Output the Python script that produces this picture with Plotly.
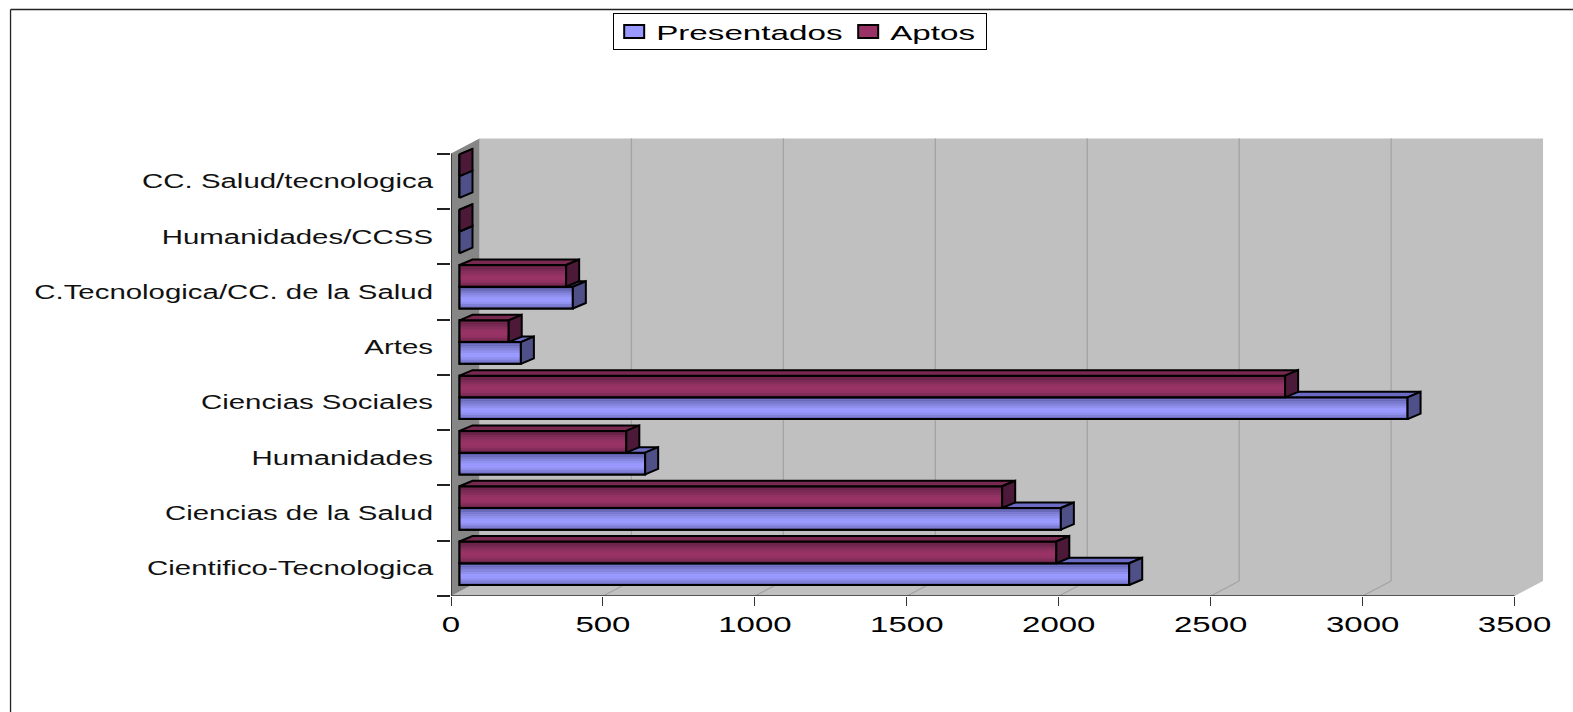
import plotly.graph_objects as go

categories = ["Cientifico-Tecnologica", "Ciencias de la Salud", "Humanidades", "Ciencias Sociales",
              "Artes", "C.Tecnologica/CC. de la Salud", "Humanidades/CCSS", "CC. Salud/tecnologica"]
presentados = [2204, 1979, 611, 3120, 202, 373, 0, 0]
aptos = [1964, 1786, 549, 2717, 162, 351, 0, 0]
x_ticks = [0, 500, 1000, 1500, 2000, 2500, 3000, 3500]

# pixel geometry of the frame
W, H = 1573, 712
L, R, T, B = 450.5, 28.4, 137.4, 116
PX_X = 0.3039     # px per value unit
PX_Y = 55.25      # px per category band
X_MAX = (W - R - L) / PX_X
Y_MAX = (H - B - T) / PX_Y
WALL_DX, WALL_DY = 28.5 / PX_X, 15 / PX_Y
BAR_BASE = 8.5 / PX_X
BAR_DX, BAR_DY = 13 / PX_X, 5.5 / PX_Y
BAR_START, BAR_H = 0.199, 0.393

N_BANDS = len(categories)
centers = [i + 0.5 for i in range(N_BANDS)]
band_edges = list(range(N_BANDS + 1))

blue_shades = ["#5c5ca6", "#6a6abb", "#7878cc", "#8585dd", "#9090ee", "#9999ff", "#9999ff", "#9090ee", "#8080d8", "#6c6cbc"]
red_shades = ["#5e2040", "#6c254a", "#7a2a54", "#862e5c", "#923262", "#993366", "#993366", "#923262", "#822c58", "#6c254a"]

series = [
    dict(name="Presentados", vals=presentados, lo=BAR_START, base="#9999ff", shades=blue_shades,
         side="#4f5088", top="#6b6bc4", lw=189),
    dict(name="Aptos", vals=aptos, lo=BAR_START + BAR_H, base="#993366", shades=red_shades,
         side="#4c1a38", top="#77294f", lw=93),
]

fig = go.Figure()
LINE = dict(color="#000000", width=2)
n_strip = len(blue_shades)
for s in series:
    y_mid = [i + s["lo"] + BAR_H / 2 for i in range(N_BANDS)]
    fig.add_trace(go.Bar(name=s["name"], orientation="h", x=s["vals"], y=y_mid, base=BAR_BASE, width=BAR_H,
                         marker=dict(color=s["base"], line=LINE), hoverinfo="x+y", legendwidth=s["lw"]))
    sx, sy, sc = [], [], []
    for i, v in enumerate(s["vals"]):
        for k in range(n_strip):
            sx.append(v)
            sy.append(i + s["lo"] + BAR_H * (1 - (k + 0.5) / n_strip))
            sc.append(s["shades"][k])
    fig.add_trace(go.Bar(orientation="h", x=sx, y=sy, base=BAR_BASE, width=BAR_H / n_strip * 1.04,
                         marker=dict(color=sc, line=dict(width=0)), showlegend=False, hoverinfo="skip"))
    fig.add_trace(go.Bar(orientation="h", x=s["vals"], y=y_mid, base=BAR_BASE, width=BAR_H,
                         marker=dict(color="rgba(0,0,0,0)", line=LINE), showlegend=False, hoverinfo="skip"))

for idx, s in enumerate(series):
    tx, ty, rx, ry = [], [], [], []
    for i, v in enumerate(s["vals"]):
        end = BAR_BASE + v
        bottom = i + s["lo"]
        top = bottom + BAR_H
        left = BAR_BASE
        if idx == 0:  # the front of the next series hides the left part of this top face
            left = BAR_BASE + series[1]["vals"][i]
        start_top = left if idx == 0 else left + BAR_DX
        tx += [left, end, end + BAR_DX, start_top, left, None]
        ty += [top, top, top + BAR_DY, top + BAR_DY, top, None]
        rx += [end, end + BAR_DX, end + BAR_DX, end, end, None]
        ry += [bottom, bottom + BAR_DY, top + BAR_DY, top, bottom, None]
    fig.add_trace(go.Scatter(x=tx, y=ty, mode="lines", fill="toself", fillcolor=s["top"], line=LINE,
                             showlegend=False, hoverinfo="skip"))
    fig.add_trace(go.Scatter(x=rx, y=ry, mode="lines", fill="toself", fillcolor=s["side"], line=LINE,
                             showlegend=False, hoverinfo="skip"))

# axis lines, limited to the front of the box
fig.add_trace(go.Scatter(x=[0, 0], y=[0, N_BANDS], mode="lines", line=dict(color="#222222", width=1.5),
                         cliponaxis=False, showlegend=False, hoverinfo="skip"))
fig.add_trace(go.Scatter(x=[0, x_ticks[-1]], y=[0, 0], mode="lines", line=dict(color="#333333", width=1.5),
                         cliponaxis=False, showlegend=False, hoverinfo="skip"))

shapes = []
def poly(pts, fill):
    path = "M" + " L".join(f"{x},{y}" for x, y in pts) + " Z"
    shapes.append(dict(type="path", path=path, xref="x", yref="y", fillcolor=fill, line=dict(width=0), layer="below"))

poly([(WALL_DX, WALL_DY), (x_ticks[-1] + WALL_DX, WALL_DY), (x_ticks[-1] + WALL_DX, N_BANDS + WALL_DY),
      (WALL_DX, N_BANDS + WALL_DY)], "#c0c0c0")
poly([(0, 0), (x_ticks[-1], 0), (x_ticks[-1] + WALL_DX, WALL_DY), (WALL_DX, WALL_DY)], "#c0c0c0")
poly([(0, 0), (WALL_DX, WALL_DY), (WALL_DX, N_BANDS + WALL_DY), (0, N_BANDS)], "#868686")
GRID = dict(color="#a3a3a3", width=1.3)
for t in x_ticks[1:-1]:
    shapes.append(dict(type="line", xref="x", yref="y", x0=t, y0=0, x1=t + WALL_DX, y1=WALL_DY, line=GRID, layer="below"))
    shapes.append(dict(type="line", xref="x", yref="y", x0=t + WALL_DX, y0=WALL_DY, x1=t + WALL_DX,
                       y1=N_BANDS + WALL_DY, line=GRID, layer="below"))

# outer frame: left and top edges only are in view
pw, ph = W - L - R, H - T - B
fx = lambda px: (px - L) / pw
fy = lambda py: 1 - (py - T) / ph
FRAME = dict(color="#222222", width=1.3)
shapes.append(dict(type="line", xref="paper", yref="paper", x0=fx(10), y0=fy(10), x1=fx(W), y1=fy(10), line=FRAME))
shapes.append(dict(type="line", xref="paper", yref="paper", x0=fx(10), y0=fy(10), x1=fx(10), y1=fy(H), line=FRAME))

fig.update_layout(
    width=W, height=H, autosize=False,
    margin=dict(l=L, r=R, t=T, b=B, pad=0),
    paper_bgcolor="#ffffff", plot_bgcolor="#ffffff",
    barmode="overlay", shapes=shapes,
    font=dict(family="Liberation Sans", color="#000000"),
    xaxis=dict(range=[0, X_MAX], tickvals=x_ticks, ticks="outside", ticklen=8.5, tickwidth=1.3, tickcolor="#333333",
               showgrid=False, zeroline=False, showline=False, tickfont=dict(size=22, color="#000000")),
    yaxis=dict(range=[0, Y_MAX], tickvals=centers, ticktext=categories, ticks="outside", ticklen=13,
               tickcolor="rgba(0,0,0,0)", showgrid=False, zeroline=False, showline=False,
               tickfont=dict(size=20, color="#111111"),
               minor=dict(tickvals=band_edges, ticks="outside", ticklen=13, tickwidth=1.5, tickcolor="#222222", showgrid=False)),
    legend=dict(x=fx(612.7), y=fy(14), xanchor="left", yanchor="top", orientation="h",
                bgcolor="#ffffff", bordercolor="#000000", borderwidth=1, font=dict(size=21, color="#000000"),
                traceorder="normal"),
)

# the reference's text is stretched sideways and its legend keys are wider
post = """
document.body.style.margin = '0';
var gd = document.getElementById('{plot_id}');
function stretch(sel, f) {
  gd.querySelectorAll(sel).forEach(function (t) {
    t.removeAttribute('textLength');
    t.setAttribute('textLength', t.getComputedTextLength() * f);
    t.setAttribute('lengthAdjust', 'spacingAndGlyphs');
  });
}
function all() {
  stretch('.xtick text', 1.5); stretch('.ytick text', 1.47); stretch('.legendtext', 1.58);
  gd.querySelectorAll('.legendtext').forEach(function (t) { t.setAttribute('x', 42); });
  gd.querySelectorAll('.legend .legendpoints path').forEach(function (p) {
    p.setAttribute('d', 'M10,6.5H-10V-6.5H10Z');
    p.style.strokeWidth = '2px';
  });
  var bg = gd.querySelector('.legend .bg');
  if (bg) { bg.setAttribute('height', 35.5); }
  var sb = gd.querySelector('.legend .scrollbox');
  if (sb) { sb.setAttribute('transform', 'translate(0,-3.2)'); }
}
all();
gd.on('plotly_afterplot', all);
"""
fig.write_html("out.html", post_script=post, config=dict(displayModeBar=False))
